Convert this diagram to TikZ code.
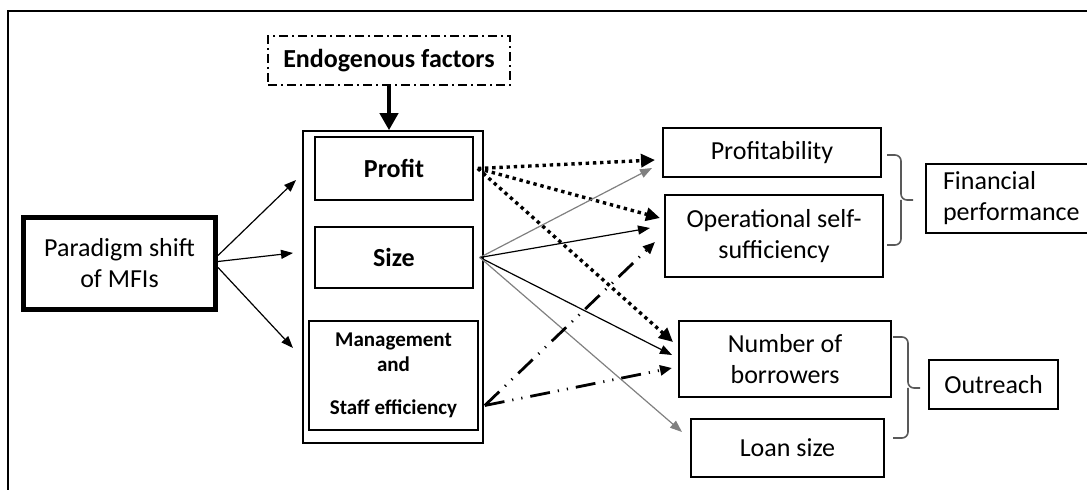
\documentclass[tikz,border=0pt]{standalone}
\usepackage{fontspec}
\setmainfont{Carlito}
\usetikzlibrary{arrows.meta}
\usetikzlibrary{positioning}

\begin{document}
\begin{tikzpicture}[x=0.5pt, y=-0.5pt,
		block/.style={
				rectangle,
				draw,
				line width=0.8pt,
				align=center,
				inner sep=1pt,
				font=\fontsize{13}{15.5}\selectfont
			},
		boldbox/.style={block, font=\bfseries\fontsize{13}{15.5}\selectfont},
		line/.style={draw, line width=0.6pt, -{Triangle[length=6pt,width=4.5pt]}},
		dotline/.style={draw, line width=1.7pt, dash pattern=on 1.7pt off 1.9pt, -{Triangle[length=7pt,width=6.5pt]}},
		dashdotline/.style={draw, line width=1.4pt, dash pattern=on 10pt off 4pt on 0.6pt off 4pt on 0.6pt off 4pt, -{Triangle[length=6pt,width=5pt]}},
		bracket/.style={draw, gray!70!black, line width=0.8pt, rounded corners=3pt}
	]
	\clip (0,0) rectangle (1087,490);
	% frame
	\draw[line width=1pt] (1087,11) -- (8,11) -- (8,490);
	% Place nodes
	\node [boldbox, line width=0.6pt, dash pattern=on 4.5pt off 2pt on 1pt off 2pt, minimum width=121pt, minimum height=24.5pt] (endo) at (389,60.5) {Endogenous factors};
	\node [block, minimum width=90pt, minimum height=156pt] (cont) at (393,287) {};
	\node [boldbox, minimum width=79pt, minimum height=31.5pt] (profit) at (394,168.5) {Profit};
	\node [boldbox, minimum width=79pt, minimum height=30.5pt] (size) at (394,257.5) {Size};
	\node [block, font=\bfseries\fontsize{10.5}{12.5}\selectfont, minimum width=84.5pt, minimum height=54.5pt] (mgmt) at (393.5,375.5) {Management\\and\\[9pt]Staff efficiency};
	\node [block, line width=2.5pt, minimum width=96pt, minimum height=46pt] (para) at (119.5,263.5) {Paradigm shift\\of MFIs};
	\node [block, minimum width=109pt, minimum height=24.5pt] (prof) at (772,152.5) {Profitability};
	\node [block, minimum width=109pt, minimum height=41pt] (oss) at (774,236) {Operational self-\\sufficiency};
	\node [block, minimum width=87pt, minimum height=34.5pt, text width=70pt, align=left] (fin) at (1013,198.5) {Financial\\performance};
	\node [block, minimum width=106pt, minimum height=38pt] (nob) at (785,359) {Number of\\borrowers};
	\node [block, minimum width=96.5pt, minimum height=29pt] (loan) at (787.5,448) {Loan size};
	\node [block, minimum width=64.5pt, minimum height=24.5pt] (outr) at (993.5,384.5) {Outreach};
	% Arrow ends
	\coordinate (pa) at (296,180);
	\coordinate (pb) at (293,253);
	\coordinate (pc) at (293,348);
	\coordinate (pf1) at (655,160);
	\coordinate (pf2) at (652,168);
	\coordinate (os1) at (660,218);
	\coordinate (os2) at (650,228);
	\coordinate (os3) at (655,242);
	\coordinate (nb1) at (673,342);
	\coordinate (nb2) at (672,355);
	\coordinate (nb3) at (672,368);
	\coordinate (ln1) at (682,432);
	% Draw edges
	\path [line, line width=2pt, -{Triangle[length=8.5pt,width=9pt]}] (endo.south) -- (endo.south |- cont.north);
	\path [line] ([yshift=4pt]para.east) -- (pa);
	\path [line] ([yshift=1pt]para.east) -- (pb);
	\path [line] ([yshift=-2pt]para.east) -- (pc);
	\path [dotline] ([xshift=2pt]profit.east) -- (pf1);
	\path [dotline] ([xshift=2pt]profit.east) -- (os1);
	\path [dotline] ([xshift=2pt]profit.east) -- (nb1);
	\path [line, draw=gray] ([xshift=3pt]size.east) -- (pf2);
	\path [line] ([xshift=3pt]size.east) -- (os2);
	\path [line] ([xshift=3pt]size.east) -- (nb2);
	\path [line, draw=gray] ([xshift=3pt]size.east) -- (ln1);
	\path [dashdotline] ([xshift=3pt,yshift=-15pt]mgmt.east) -- (os3);
	\path [dashdotline] ([xshift=3pt,yshift=-15pt]mgmt.east) -- (nb3);
	% Brackets
	\draw [bracket] (887,155) -| (901,200) -- (913,200);
	\draw [bracket] (887,245) -| (901,200);
	\draw [bracket] (893,337) -| (908,388) -- (920,388);
	\draw [bracket] (893,438) -| (908,388);
\end{tikzpicture}
\end{document}
